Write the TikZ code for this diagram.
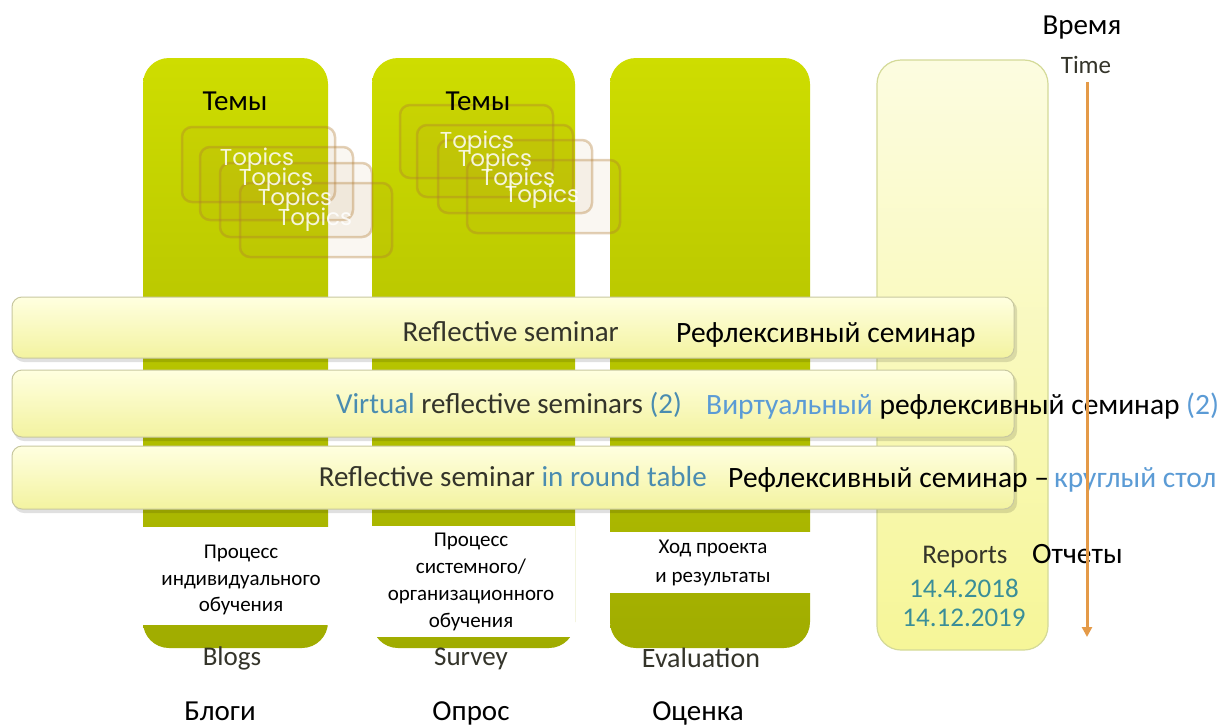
\documentclass[tikz,border=0pt]{standalone}
\usepackage{fontspec}
\setmainfont{Carlito}
\newfontfamily\topicfont{Poppins}
\usetikzlibrary{arrows.meta}
\definecolor{colTop}{HTML}{CEDD00}
\definecolor{colBot}{HTML}{A0AC00}
\definecolor{bandTop}{HTML}{FFFFE0}
\definecolor{bandBot}{HTML}{F3F3A0}
\definecolor{bandEdge}{HTML}{C8C8A0}
\definecolor{repTop}{HTML}{FCFCE0}
\definecolor{repBot}{HTML}{F6F698}
\definecolor{repEdge}{HTML}{D4DA98}
\definecolor{engtext}{HTML}{34342A}
\definecolor{engblue}{HTML}{4A8CB0}
\definecolor{rublue}{HTML}{5B9BD5}
\definecolor{datecol}{HTML}{3A8E98}
\definecolor{arrowcol}{HTML}{E49A48}
\definecolor{topicedge}{HTML}{B07A30}
\tikzset{
  colbox/.style={top color=colTop, bottom color=colBot, rounded corners=26pt},
  bandbox/.style={top color=bandTop, bottom color=bandBot, draw=bandEdge, line width=1pt, rounded corners=10pt},
  bandshadow/.style={fill=black, opacity=0.12, rounded corners=10pt},
  topicbox/.style={draw=topicedge, line width=2.5pt, draw opacity=0.35, fill=topicedge, fill opacity=0.06, rounded corners=10pt},
  topictext/.style={font=\topicfont\fontsize{23}{23}\selectfont, text=white, opacity=0.85},
  engl/.style={font=\fontsize{29}{30}\selectfont, text=engtext, anchor=base east, inner sep=0pt},
  englbl/.style={font=\fontsize{27}{28}\selectfont, text=engtext, anchor=base, inner sep=0pt},
  rus/.style={font=\fontsize{29.5}{30}\selectfont, text=black, anchor=base west, inner sep=0pt},
  whitelbl/.style={fill=white, inner sep=0pt},
  lbltext/.style={font=\fontsize{21}{26.5}\selectfont, text=black, anchor=base, inner sep=0pt},
  rubot/.style={font=\fontsize{29}{30}\selectfont, text=black, anchor=base, inner sep=0pt}
}
\begin{document}
\begin{tikzpicture}[x=1pt,y=-1pt]
\useasboundingbox (0,0) rectangle (1219,726);
\fill[white] (0,0) rectangle (1219,726);
% columns
\shade[colbox] (143,58) rectangle (328,648);
\shade[colbox] (372,58) rectangle (575,648);
\shade[colbox] (610,58) rectangle (810,648);
% reports column
\shade[top color=repTop, bottom color=repBot, rounded corners=24pt] (877,60) rectangle (1048,650);
\draw[repEdge, line width=1.2pt, rounded corners=24pt] (877,60) rectangle (1048,650);
% topics boxes, column 1
\draw[topicbox] (182,127) rectangle (335,202);
\draw[topicbox] (200,147) rectangle (353,220);
\draw[topicbox] (220,163) rectangle (372,237);
\draw[topicbox] (240,183) rectangle (392,257);
\node[topictext] (t11) at (257,160) {Topics};
\node[topictext] (t12) at (276,180) {Topics};
\node[topictext] (t13) at (295,200) {Topics};
\node[topictext] (t14) at (315,220) {Topics};
% topics boxes, column 2
\draw[topicbox] (400,105) rectangle (553,178);
\draw[topicbox] (417,125) rectangle (573,197);
\draw[topicbox] (438,140) rectangle (592,213);
\draw[topicbox] (467,160) rectangle (620,233);
\node[topictext] (t21) at (477,143) {Topics};
\node[topictext] (t22) at (495,161) {Topics};
\node[topictext] (t23) at (518,180) {Topics};
\node[topictext] (t24) at (542,197) {Topics};
\node[rubot] (tem1) at (235,110) {Темы};
\node[rubot] (tem2) at (478,110) {Темы};
% bands
\fill[bandshadow] (14,300) rectangle (1017,362);
\shade[bandbox] (12,297) rectangle (1014,358);
\fill[bandshadow] (14,373) rectangle (1017,441);
\shade[bandbox] (12,370) rectangle (1014,437);
\fill[bandshadow] (14,449) rectangle (1017,513);
\shade[bandbox] (12,446) rectangle (1014,509);
\node[engl] (b1e) at (619,341) {Reflective seminar};
\node[rus] (b1r) at (676,342) {Рефлексивный семинар};
\node[engl] (b2e) at (682,413) {\textcolor{engblue}{Virtual} reflective seminars \textcolor{engblue}{(2)}};
\node[rus] (b2r) at (706,414) {\textcolor{rublue}{Виртуальный} рефлексивный семинар \textcolor{rublue}{(2)}};
\node[engl] (b3e) at (707,486) {Reflective seminar \textcolor{engblue}{in round table}};
\node[rus] (b3r) at (728,487) {Рефлексивный семинар –};
\node[rus, fill=white, text=rublue, inner ysep=2pt] (b3b) at (b3r.base east) {\,круглый стол};
% reports
\node[englbl] (rep) at (965,563) {Reports};
\node[rus] (otch) at (1032,563) {Отчеты};
\node[englbl, text=datecol] (d1) at (964,597) {14.4.2018};
\node[englbl, text=datecol] (d2) at (964,626) {14.12.2019};
% white labels
\fill[whitelbl] (140,527) rectangle (330,625);
\fill[whitelbl] (358,526) rectangle (575,637);
\fill[whitelbl] (608,532) rectangle (817,593);
\node[lbltext] (l11) at (241,558) {Процесс};
\node[lbltext] (l12) at (241,585) {индивидуального};
\node[lbltext] (l13) at (241,611) {обучения};
\node[lbltext] (l21) at (471,546) {Процесс};
\node[lbltext] (l22) at (471,573) {системного/};
\node[lbltext] (l23) at (471,600) {организационного};
\node[lbltext] (l24) at (471,627) {обучения};
\node[lbltext] (l31) at (713,553) {Ход проекта};
\node[lbltext] (l32) at (713,582) {и результаты};
% bottom labels
\node[englbl] (blogs) at (232,665) {Blogs};
\node[englbl] (survey) at (471,665) {Survey};
\node[englbl, font=\fontsize{28}{29}\selectfont] (eval) at (701,667) {Evaluation};
\node[rubot] (blogi) at (220,720) {Блоги};
\node[rubot] (opros) at (471,720) {Опрос};
\node[rubot] (ocenka) at (698,720) {Оценка};
% time
\node[rubot] (vremya) at (1082,34) {Время};
\node[englbl, font=\fontsize{25}{26}\selectfont] (time) at (1086,73) {Time};
\coordinate (tstart) at (1087,82);
\coordinate (tend) at (1087,637);
\draw[arrowcol, line width=3pt, -{Triangle[length=10pt,width=10pt]}] (tstart) -- (tend);
\end{tikzpicture}
\end{document}
